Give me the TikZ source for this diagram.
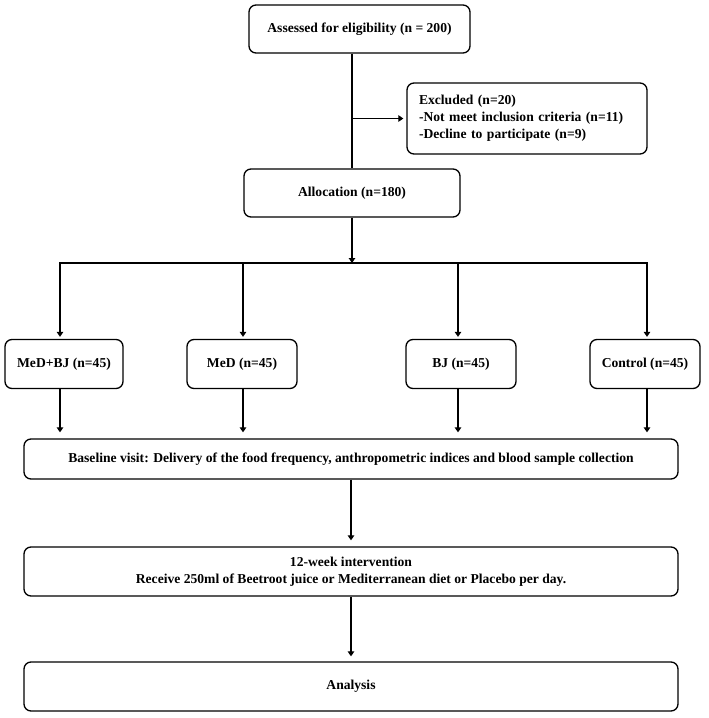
\documentclass[tikz,border=0pt]{standalone}
\usepackage{fontspec}
\setmainfont{Liberation Serif}
\usepackage{tikz}
\usetikzlibrary{arrows.meta}
\usetikzlibrary{shapes, positioning, calc}

\begin{document}
\begin{tikzpicture}[x=1pt,y=-1pt,
		box/.style={draw, line width=1.3pt, rounded corners=7pt, minimum height=48pt, inner sep=0pt,
			font=\fontsize{13.6}{17}\selectfont\bfseries, align=center},
		link/.style={line width=1.6pt},
		arr/.style={line width=1.6pt, -{Triangle[length=5pt,width=6.5pt]}}
	]
		\useasboundingbox (0,0) rectangle (709,718);
		
		\node [box, minimum width=221pt] (assess) at (359.5,29) {Assessed for eligibility (n = 200)};
		\node [box, minimum width=240pt, minimum height=71pt, align=left, text width=216pt] (excl) at (527,118.5) {Excluded (n=20)\\-Not meet inclusion criteria (n=11)\\-Decline to participate (n=9)};
		\node [box, minimum width=216pt] (alloc) at (352,193) {Allocation (n=180)};
		
		\node [box, minimum width=118pt, minimum height=49pt] (mbj) at (64,364) {MeD+BJ (n=45)};
		\node [box, minimum width=110pt, minimum height=49pt] (med) at (242,364) {MeD (n=45)};
		\node [box, minimum width=110pt, minimum height=49pt] (bj) at (461,364) {BJ (n=45)};
		\node [box, minimum width=110pt, minimum height=49pt] (ctrl) at (645,364) {Control (n=45)};
		
		\node [box, minimum width=654pt, minimum height=40pt] (base) at (351,459) {Baseline visit: Delivery of the food frequency, anthropometric indices and blood sample collection};
		\node [box, minimum width=654pt, minimum height=49pt] (inter) at (351,571.5) {12-week intervention\\Receive 250ml of Beetroot juice or Mediterranean diet or Placebo per day.};
		\node [box, minimum width=654pt, minimum height=49pt] (anal) at (351,686.5) {Analysis};
		
		\coordinate (hub) at (352,263);
		\coordinate (b1) at (60,263);
		\coordinate (b2) at (243,263);
		\coordinate (b3) at (458,263);
		\coordinate (b4) at (647,263);
		
		\draw [link] (assess.south -| alloc.north) -- (alloc.north);
		\draw [arr, shorten >=3pt] (alloc.north |- excl.west) -- (excl.west);
		\draw [arr] (alloc.south) -- (hub);
		\draw [link, line cap=rect] (b1) -- (b4);
		
		\foreach \b/\g in {b1/mbj, b2/med, b3/bj, b4/ctrl} {
			\draw [arr, shorten >=2pt] (\b) -- (\b |- \g.north);
			\draw [arr, shorten >=6pt] (\b |- \g.south) -- (\b |- base.north);
		}
		
		\draw [arr, shorten >=6pt] (base.south) -- (inter.north);
		\draw [arr, shorten >=5pt] (inter.south) -- (anal.north);
\end{tikzpicture}
\end{document}
